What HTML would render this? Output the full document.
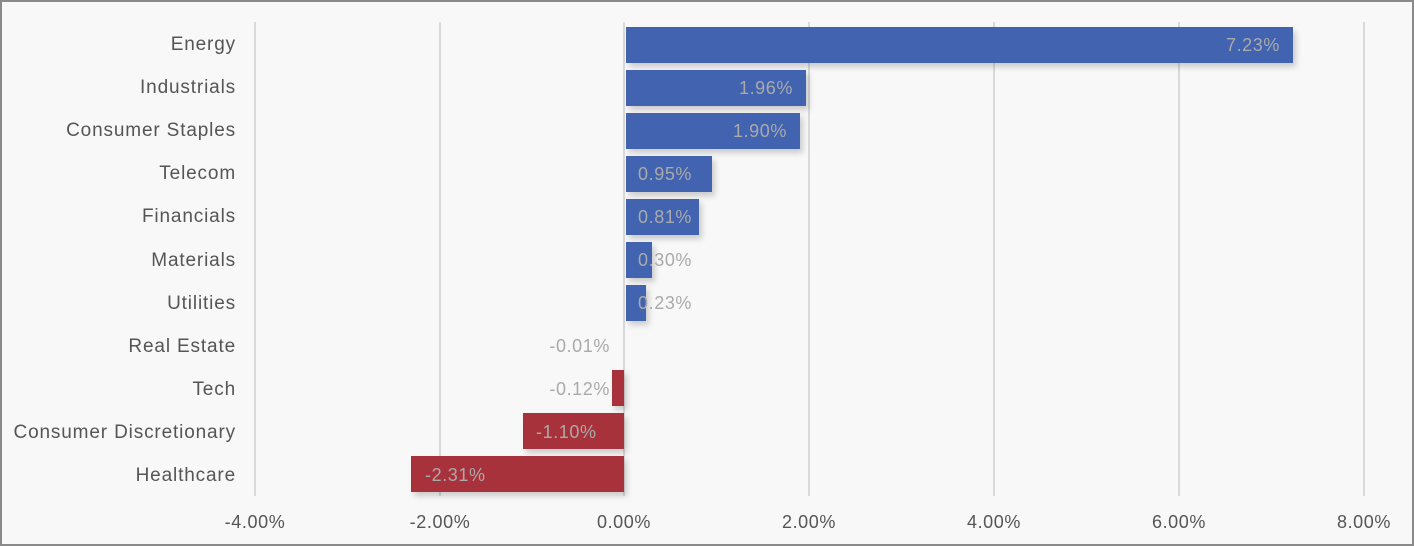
<!DOCTYPE html>
<html><head><style>
html,body{margin:0;padding:0;background:#f8f8f8;}
svg{display:block;}
text{font-family:"Liberation Sans",sans-serif;}
</style></head><body>
<svg width="1414" height="546" viewBox="0 0 1414 546" xmlns="http://www.w3.org/2000/svg">
<defs><filter id="sh" x="-10%" y="-20%" width="130%" height="160%"><feDropShadow dx="3" dy="4" stdDeviation="3" flood-color="#000" flood-opacity="0.18"/></filter></defs>
<rect x="1" y="1" width="1412" height="544" fill="#f8f8f8" stroke="#8a8a8a" stroke-width="2"/>
<g stroke="#d9d9d9" stroke-width="2">
<line x1="255" y1="22" x2="255" y2="496"/><line x1="440" y1="22" x2="440" y2="496"/>
<line x1="624" y1="22" x2="624" y2="496"/><line x1="809" y1="22" x2="809" y2="496"/>
<line x1="994" y1="22" x2="994" y2="496"/><line x1="1179" y1="22" x2="1179" y2="496"/>
<line x1="1364" y1="22" x2="1364" y2="496"/>
</g>
<g filter="url(#sh)">
<rect x="626" y="27" width="667" height="36" fill="#4364b0"/>
<rect x="626" y="70" width="180" height="36" fill="#4364b0"/>
<rect x="626" y="113" width="174" height="36" fill="#4364b0"/>
<rect x="626" y="156" width="86" height="36" fill="#4364b0"/>
<rect x="626" y="199" width="73" height="36" fill="#4364b0"/>
<rect x="626" y="242" width="26" height="36" fill="#4364b0"/>
<rect x="626" y="285" width="20" height="36" fill="#4364b0"/>
<rect x="612" y="370" width="12" height="36" fill="#a8323a"/>
<rect x="523" y="413" width="101" height="36" fill="#a8323a"/>
<rect x="411" y="456" width="213" height="36" fill="#a8323a"/>
</g>
<g font-size="19" fill="#555" text-anchor="end" letter-spacing="0.85">
<text x="236" y="50">Energy</text><text x="236" y="93">Industrials</text>
<text x="236" y="136">Consumer Staples</text><text x="236" y="179">Telecom</text>
<text x="236" y="222">Financials</text><text x="236" y="266">Materials</text>
<text x="236" y="309">Utilities</text><text x="236" y="352">Real Estate</text>
<text x="236" y="395">Tech</text><text x="236" y="438">Consumer Discretionary</text>
<text x="236" y="481">Healthcare</text>
</g>
<g font-size="18" fill="#aaa" letter-spacing="0.6">
<text x="1280" y="51" text-anchor="end">7.23%</text>
<text x="793" y="94" text-anchor="end">1.96%</text>
<text x="787" y="137" text-anchor="end">1.90%</text>
<text x="638" y="180">0.95%</text>
<text x="638" y="223">0.81%</text>
<text x="638" y="266">0.30%</text>
<text x="638" y="309">0.23%</text>
<text x="610" y="352" text-anchor="end">-0.01%</text>
<text x="610" y="395" text-anchor="end">-0.12%</text>
<text x="536" y="438">-1.10%</text>
<text x="425" y="481">-2.31%</text>
</g>
<g font-size="18" fill="#555" text-anchor="middle" letter-spacing="0.6">
<text x="255" y="528">-4.00%</text><text x="440" y="528">-2.00%</text>
<text x="624" y="528">0.00%</text><text x="809" y="528">2.00%</text>
<text x="994" y="528">4.00%</text><text x="1179" y="528">6.00%</text>
<text x="1364" y="528">8.00%</text>
</g>
</svg>
</body></html>
